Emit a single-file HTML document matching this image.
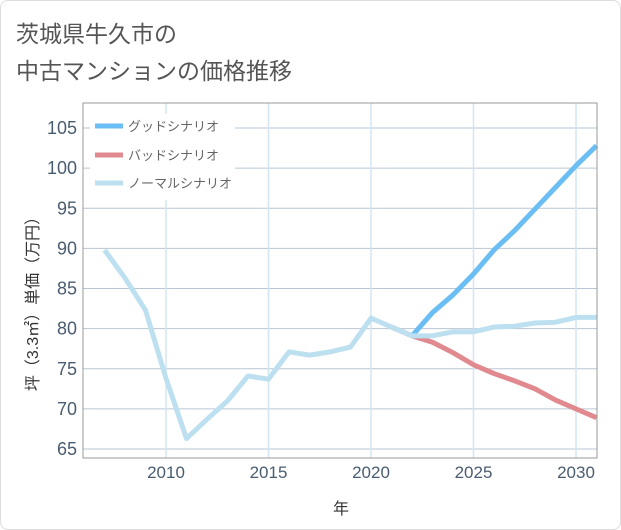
<!DOCTYPE html>
<html><head><meta charset="utf-8"><style>
body{margin:0;background:#fff;font-family:"Liberation Sans","Noto Sans CJK JP",sans-serif;}
#card{position:absolute;left:0;top:0;width:619px;height:528px;border:1px solid #ddd;border-radius:8px;background:#fff;}
</style></head><body>
<div id="card">
<svg width="621" height="530" style="position:absolute;left:-1px;top:-1px" id="svg">
<text x="16" y="42" font-size="23" fill="#555">茨城県牛久市の</text>
<text x="16" y="79" font-size="23" fill="#555">中古マンションの価格推移</text>
<g id="grid"></g><g id="lines"></g>
<rect x="83" y="103" width="514" height="355" fill="none" stroke="#999" stroke-width="1"/>
<g id="axes"></g>
<text x="341" y="514" font-size="16" fill="#333" text-anchor="middle">年</text>
<text transform="translate(38,300) rotate(-90)" font-size="16" fill="#333" text-anchor="middle">坪（3.3㎡）単価（万円）</text>
<g>
<rect x="90" y="114" width="145" height="86" fill="#fff"/>
<line x1="95" y1="126" x2="123" y2="126" stroke="#6bbef3" stroke-width="5"/>
<text x="128" y="131" font-size="13" fill="#666">グッドシナリオ</text>
<line x1="95" y1="155" x2="123" y2="155" stroke="#e08a90" stroke-width="5"/>
<text x="128" y="160" font-size="13" fill="#666">バッドシナリオ</text>
<line x1="95" y1="183" x2="123" y2="183" stroke="#bde0f0" stroke-width="5"/>
<text x="128" y="188" font-size="13" fill="#666">ノーマルシナリオ</text>
</g>
</svg></div>
<script>
const normalYears=[2007,2008,2009,2010,2011,2012,2013,2014,2015,2016,2017,2018,2019,2020,2021,2022,2023,2024,2025,2026,2027,2028,2029,2030,2031];
const normalVals=[89.8,86.3,82.3,73.8,66.3,68.7,71.0,74.1,73.7,77.1,76.7,77.1,77.7,81.3,80.2,79.1,79.1,79.6,79.6,80.2,80.3,80.7,80.8,81.4,81.4];
const goodYears=[2022,2023,2024,2025,2026,2027,2028,2029,2030,2031];
const goodVals=[79.1,82.0,84.2,86.8,89.8,92.2,94.9,97.6,100.3,102.8];
const badYears=[2021,2022,2023,2024,2025,2026,2027,2028,2029,2030,2031];
const badVals=[80.2,79.1,78.3,77.0,75.5,74.4,73.5,72.5,71.1,70.0,68.9];
const xTicks=[2010,2015,2020,2025,2030];
const yTicks=[65,70,75,80,85,90,95,100,105];
const X=y=>166+(y-2010)*20.5;
const Y=v=>449-(v-65)*8.025;
const NS="http://www.w3.org/2000/svg";
function mk(t,a,p){const e=document.createElementNS(NS,t);for(const k in a)e.setAttribute(k,a[k]);p.appendChild(e);return e;}
const grid=document.getElementById('grid'),axes=document.getElementById('axes'),lines=document.getElementById('lines');
yTicks.forEach(v=>{
const l=mk('line',{x1:83,x2:597,y1:Y(v),y2:Y(v),stroke:'#b9c6d3','stroke-width':1},grid);


const t=mk('text',{x:77,y:Y(v)+6,'font-size':18,fill:'#4a5d70','text-anchor':'end'},axes);t.textContent=v;


});
xTicks.forEach(v=>{
const l=mk('line',{x1:X(v),x2:X(v),y1:103,y2:458,stroke:'#d2e6f2','stroke-width':1.5},grid);


const t=mk('text',{x:X(v),y:478,'font-size':17,fill:'#4a5d70','text-anchor':'middle'},axes);t.textContent=v;


});
function series(ys,vs,c,n){
const p=mk('polyline',{points:ys.map((y,i)=>X(y)+','+Y(vs[i])).join(' '),fill:'none',stroke:c,'stroke-width':5,'stroke-linejoin':'round'},lines);


}
series(badYears,badVals,'#e08a90','bad-scenario-line');
series(goodYears,goodVals,'#6bbef3','good-scenario-line');
series(normalYears,normalVals,'#bde0f0','normal-scenario-line');
</script>
</body></html>
